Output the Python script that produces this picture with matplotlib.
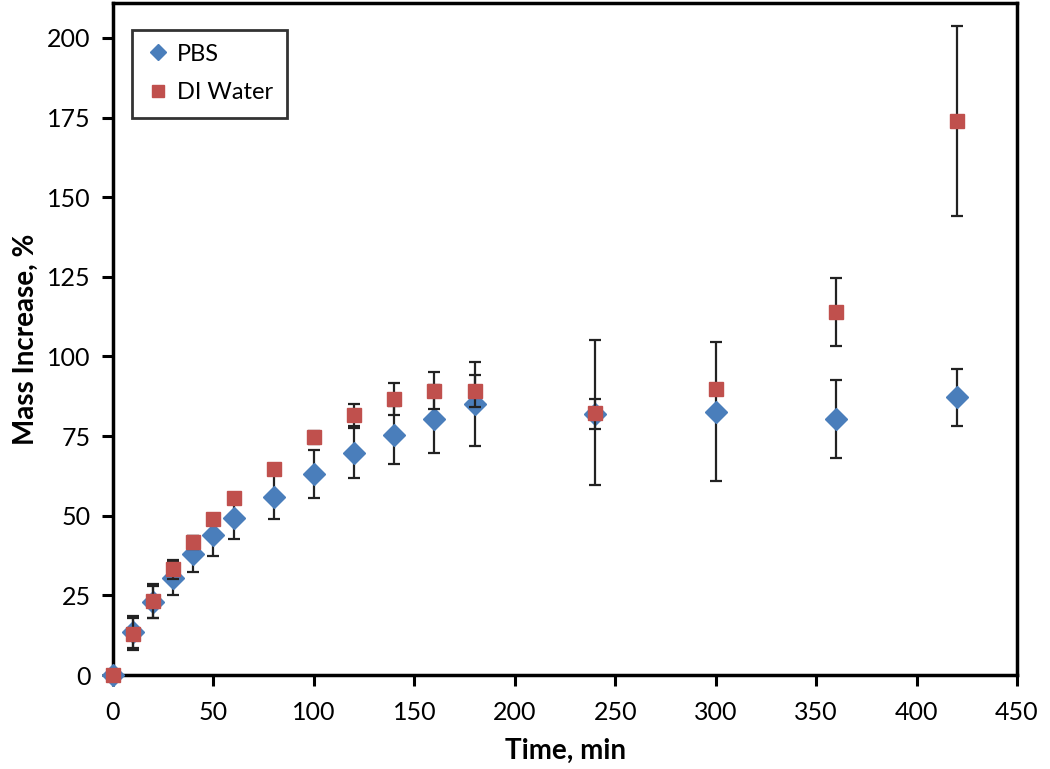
import matplotlib
matplotlib.use("Agg")
import matplotlib.pyplot as plt

# data
time_min = [0, 10, 20, 30, 40, 50, 60, 80, 100, 120, 140, 160, 180, 240, 300, 360, 420]
pbs_mean = [0, 13.5, 23.0, 30.5, 38.0, 44.0, 49.4, 56.0, 63.1, 69.8, 75.4, 80.3, 85.1, 82.0, 82.7, 80.4, 87.2]
pbs_err = [0, 5.0, 5.0, 5.4, 5.7, 6.5, 6.8, 7.0, 7.5, 7.8, 9.0, 10.7, 13.2, 4.7, 21.8, 12.3, 9.0]
water_mean = [0, 12.8, 23.3, 33.2, 41.7, 48.9, 55.5, 64.6, 74.6, 81.6, 86.6, 89.2, 89.2, 82.4, 89.7, 114.0, 174.0]
water_err = [0, 5.0, 5.4, 3.0, 2.0, 1.5, 1.5, 1.5, 2.0, 3.5, 5.0, 5.8, 5.0, 22.8, 1.0, 10.6, 29.8]

plt.rcParams["font.family"] = ["Lato", "DejaVu Sans"]

fig = plt.figure(figsize=(10.5, 7.69), dpi=100)
ax = fig.add_axes([0.1076, 0.1222, 0.861, 0.874])

eb1 = ax.errorbar(time_min, pbs_mean, yerr=pbs_err, fmt="D", color="#4A7EBB", ms=11,
                  ecolor="#222222", elinewidth=1.6, capsize=4, capthick=1.6, label="PBS", zorder=3)
eb2 = ax.errorbar(time_min, water_mean, yerr=water_err, fmt="s", color="#C0504D", ms=10,
                  ecolor="#222222", elinewidth=1.6, capsize=4, capthick=1.6, label="DI Water", zorder=4)
for eb in (eb1, eb2):
    eb[0].set_clip_on(False)

ax.set_xlim(0, 450)
ax.set_ylim(0, 211)
ax.set_xticks(range(0, 451, 50))
ax.set_yticks(range(0, 201, 25))
ax.tick_params(direction="out", length=8, width=2.2, labelsize=18, pad=8)
ax.tick_params(axis="x", pad=11)
for s in ax.spines.values():
    s.set_linewidth(2.5)
    s.set_color("black")

ax.set_xlabel("Time, min", fontsize=20, fontweight="bold", labelpad=10)
ax.set_ylabel("Mass Increase, %", fontsize=20, fontweight="bold", labelpad=6)

leg = ax.legend(handles=[eb1[0], eb2[0]], labels=["PBS", "DI Water"],
                loc="upper left", bbox_to_anchor=(0.008, 0.978), fontsize=17, frameon=True,
                fancybox=False, edgecolor="black", handletextpad=0.3, borderpad=0.6,
                labelspacing=0.75, handlelength=1.0)
leg.get_frame().set_linewidth(2)
for h in leg.legend_handles:
    h.set_markersize(8)

fig.savefig("out.png", dpi=100)
